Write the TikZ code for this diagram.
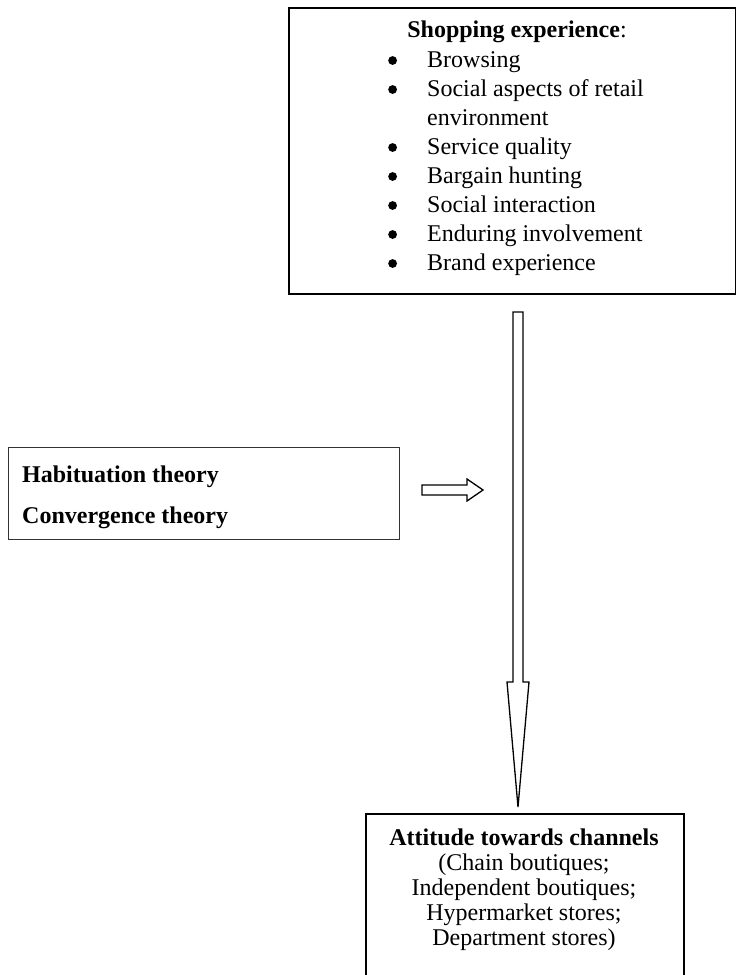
\documentclass[tikz,border=0pt]{standalone}
\usepackage{fontspec}
\setmainfont{Liberation Serif}
\usepackage{array}

\newcommand{\itembullet}{\tikz[baseline=-6.5pt]\fill (0,0) circle (4.4pt);}

\tikzset{
  frame/.style={draw, line width=1.6pt, inner sep=0pt, anchor=north west},
  thinframe/.style={draw=black!80, line width=1.1pt, inner sep=0pt, anchor=north west},
  hollow/.style={draw, line width=1.3pt, fill=white, line join=miter},
  txt/.style={inner sep=0pt, anchor=base west, font=\fontsize{24}{29}\selectfont},
}

\begin{document}
\begin{tikzpicture}[x=1pt, y=-1pt]
	\useasboundingbox (0,0) rectangle (736,975);
	\clip (0,0) rectangle (736,975);
	% boxes
	\node[frame, minimum width=447pt, minimum height=286pt] (shop) at (288,7) {};
	\node[thinframe, minimum width=391pt, minimum height=92pt] (theory) at (8,447) {};
	\node[frame, minimum width=318pt, minimum height=190pt] (chan) at (365,813) {};
	% shopping experience
	\node[txt, anchor=base] (shophead) at (517,37) {\textbf{Shopping experience}:};
	\node[txt] (shoplist) at (388,67) {\begin{tabular}[t]{@{}p{39pt}@{}l@{}}
		\itembullet & Browsing\\
		\itembullet & Social aspects of retail\\
		& environment\\
		\itembullet & Service quality\\
		\itembullet & Bargain hunting\\
		\itembullet & Social interaction\\
		\itembullet & Enduring involvement\\
		\itembullet & Brand experience
	\end{tabular}};
	% theories
	\node[txt, font=\fontsize{24}{26}\selectfont\bfseries] (habit) at (22,482) {Habituation theory};
	\node[txt, font=\fontsize{24}{26}\selectfont\bfseries] (conv) at (22,523) {Convergence theory};
	% attitude
	\node[txt, anchor=base, font=\fontsize{24}{25}\selectfont] (chantext) at (524,845) {\begin{tabular}[t]{@{}c@{}}
		\textbf{Attitude towards channels}\\
		(Chain boutiques;\\
		Independent boutiques;\\
		Hypermarket stores;\\
		Department stores)
	\end{tabular}};
	% arrows
	\draw[hollow] (513,312) -- (523,312) -- (523,682) -- (529,682) -- (518,807)
		-- (507,682) -- (513,682) -- cycle;
	\draw[hollow] (422,485) -- (467,485) -- (467,479) -- (483,490) -- (467,501)
		-- (467,495) -- (422,495) -- cycle;
\end{tikzpicture}
\end{document}
